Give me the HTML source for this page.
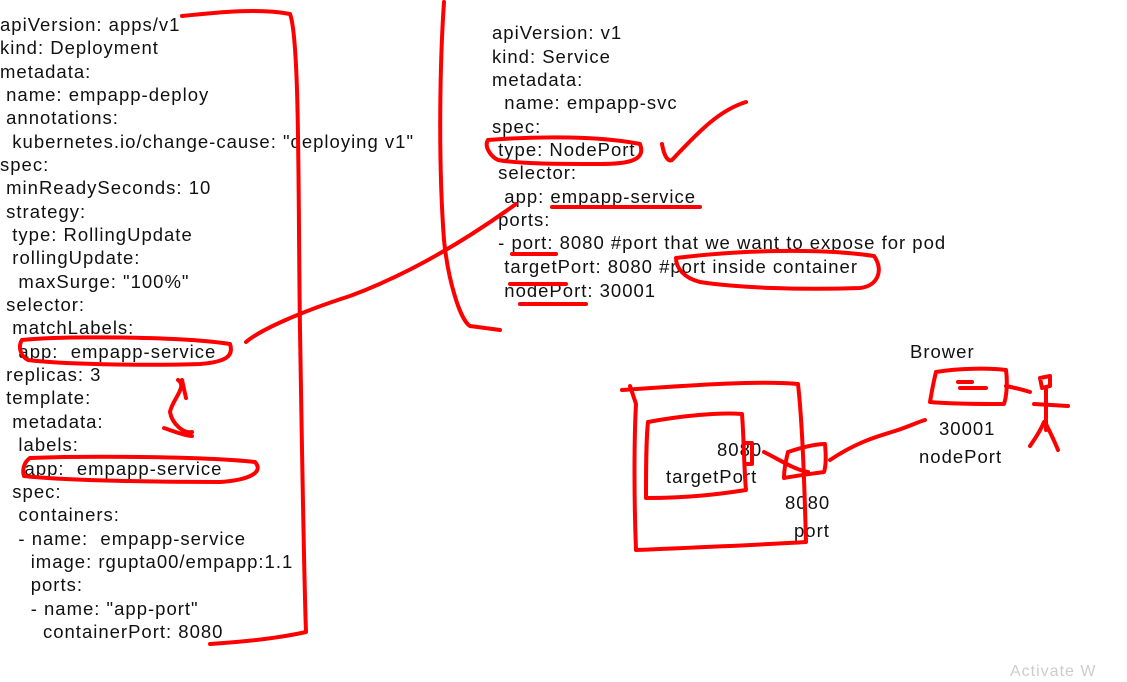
<!DOCTYPE html>
<html><head><meta charset="utf-8"><style>
html,body{margin:0;padding:0;background:#fff;}
body{width:1127px;height:669px;position:relative;overflow:hidden;font-family:"Liberation Sans",sans-serif;color:#111;}
.t{position:absolute;font-size:18.5px;white-space:pre;line-height:20px;letter-spacing:1px;}
svg{position:absolute;left:0;top:0;}
</style></head><body>
<div class="t" style="left:0;top:15px">apiVersion: apps/v1</div>
<div class="t" style="left:0;top:38px">kind: Deployment</div>
<div class="t" style="left:0;top:62px">metadata:</div>
<div class="t" style="left:0;top:85px"> name: empapp-deploy</div>
<div class="t" style="left:0;top:108px"> annotations:</div>
<div class="t" style="left:0;top:132px">  kubernetes.io/change-cause: "deploying v1"</div>
<div class="t" style="left:0;top:155px">spec:</div>
<div class="t" style="left:0;top:178px"> minReadySeconds: 10</div>
<div class="t" style="left:0;top:202px"> strategy:</div>
<div class="t" style="left:0;top:225px">  type: RollingUpdate</div>
<div class="t" style="left:0;top:248px">  rollingUpdate:</div>
<div class="t" style="left:0;top:272px">   maxSurge: "100%"</div>
<div class="t" style="left:0;top:295px"> selector:</div>
<div class="t" style="left:0;top:318px">  matchLabels:</div>
<div class="t" style="left:0;top:342px">   app:  empapp-service</div>
<div class="t" style="left:0;top:365px"> replicas: 3</div>
<div class="t" style="left:0;top:388px"> template:</div>
<div class="t" style="left:0;top:412px">  metadata:</div>
<div class="t" style="left:0;top:435px">   labels:</div>
<div class="t" style="left:0;top:459px">    app:  empapp-service</div>
<div class="t" style="left:0;top:482px">  spec:</div>
<div class="t" style="left:0;top:505px">   containers:</div>
<div class="t" style="left:0;top:529px">   - name:  empapp-service</div>
<div class="t" style="left:0;top:552px">     image: rgupta00/empapp:1.1</div>
<div class="t" style="left:0;top:575px">     ports:</div>
<div class="t" style="left:0;top:599px">     - name: "app-port"</div>
<div class="t" style="left:0;top:622px">       containerPort: 8080</div>

<div class="t" style="left:492px;top:23px">apiVersion: v1</div>
<div class="t" style="left:492px;top:47px">kind: Service</div>
<div class="t" style="left:492px;top:70px">metadata:</div>
<div class="t" style="left:492px;top:93px">  name: empapp-svc</div>
<div class="t" style="left:492px;top:117px">spec:</div>
<div class="t" style="left:492px;top:140px"> type: NodePort</div>
<div class="t" style="left:492px;top:163px"> selector:</div>
<div class="t" style="left:492px;top:187px">  app: empapp-service</div>
<div class="t" style="left:492px;top:210px"> ports:</div>
<div class="t" style="left:492px;top:233px"> - port: 8080 #port that we want to expose for pod</div>
<div class="t" style="left:492px;top:257px">  targetPort: 8080 #port inside container</div>
<div class="t" style="left:492px;top:281px">  nodePort: 30001</div>

<div class="t" style="left:910px;top:342px">Brower</div>
<div class="t" style="left:717px;top:440px">8080</div>
<div class="t" style="left:666px;top:467px">targetPort</div>
<div class="t" style="left:785px;top:493px">8080</div>
<div class="t" style="left:794px;top:521px">port</div>
<div class="t" style="left:939px;top:419px">30001</div>
<div class="t" style="left:919px;top:447px">nodePort</div>

<svg width="1127" height="669" fill="none" stroke="#f00" stroke-width="4" stroke-linecap="round" stroke-linejoin="round">
<path d="M182,16 C220,12 260,8 290,14 C300,40 298,200 300,330 C302,450 304,580 306,632 C280,638 240,642 210,644"/>
<path d="M444,2 C440,60 438,160 444,240 C448,280 460,320 470,326 L500,330"/>
<path d="M22,340 C60,336 180,336 230,344 C234,356 226,362 200,364 C140,366 60,364 28,360 C20,356 18,346 22,340"/>
<path d="M178,380 C188,386 172,400 170,412 C172,424 184,434 192,432 M164,428 C176,432 186,436 192,436 M182,380 L186,398"/>
<path d="M30,458 C80,456 200,456 255,462 C264,472 250,480 220,482 C140,482 60,480 24,476 C22,470 24,462 30,458"/>
<path d="M246,342 C260,330 300,312 350,296 C420,270 480,230 516,204"/>
<path d="M488,140 C540,136 600,136 640,144 C646,160 630,164 600,164 C560,164 520,164 498,160 C490,156 484,146 488,140"/>
<path d="M662,144 C664,156 668,162 672,160 C700,130 720,110 746,102"/>
<path d="M552,207 L700,207"/>
<path d="M512,254 L556,254"/>
<path d="M510,284 L566,284"/>
<path d="M520,304 L586,304"/>
<path d="M676,258 C740,250 820,248 874,256 C884,270 878,286 860,288 C800,290 740,288 700,282 C684,278 676,268 676,258"/>
<path d="M622,390 C680,386 760,380 798,384 C802,420 804,470 806,542 C740,546 680,548 636,550 C634,500 634,440 636,404 L630,386"/>
<path d="M648,422 C680,416 720,412 742,414 C744,440 744,470 746,490 C720,494 690,498 646,498 C646,470 646,440 648,422"/>
<path d="M745,443 L752,443 L752,464 L746,464"/>
<path d="M764,452 C780,460 795,470 808,472"/>
<path d="M788,452 C800,448 815,444 825,444 C826,455 826,466 824,472 C810,474 795,476 784,478 C784,470 786,460 788,452"/>
<path d="M830,460 C860,440 880,436 898,430 C910,426 918,422 925,420"/>
<path d="M936,372 C960,368 990,368 1006,370 C1008,385 1006,398 1004,404 C980,404 950,404 930,402 C932,390 934,380 936,372 M958,382 L972,382 M960,388 L986,388 M1006,386 C1016,388 1024,390 1030,392"/>
<path d="M1040,378 L1050,376 L1050,386 L1042,388 Z M1046,388 L1046,430 M1034,404 L1068,406 M1044,422 C1040,432 1034,440 1030,446 M1046,424 C1050,432 1054,440 1058,450"/>
</svg>
<div class="t" style="left:1010px;top:662px;color:#ccc;font-size:16px">Activate W</div>
</body></html>
